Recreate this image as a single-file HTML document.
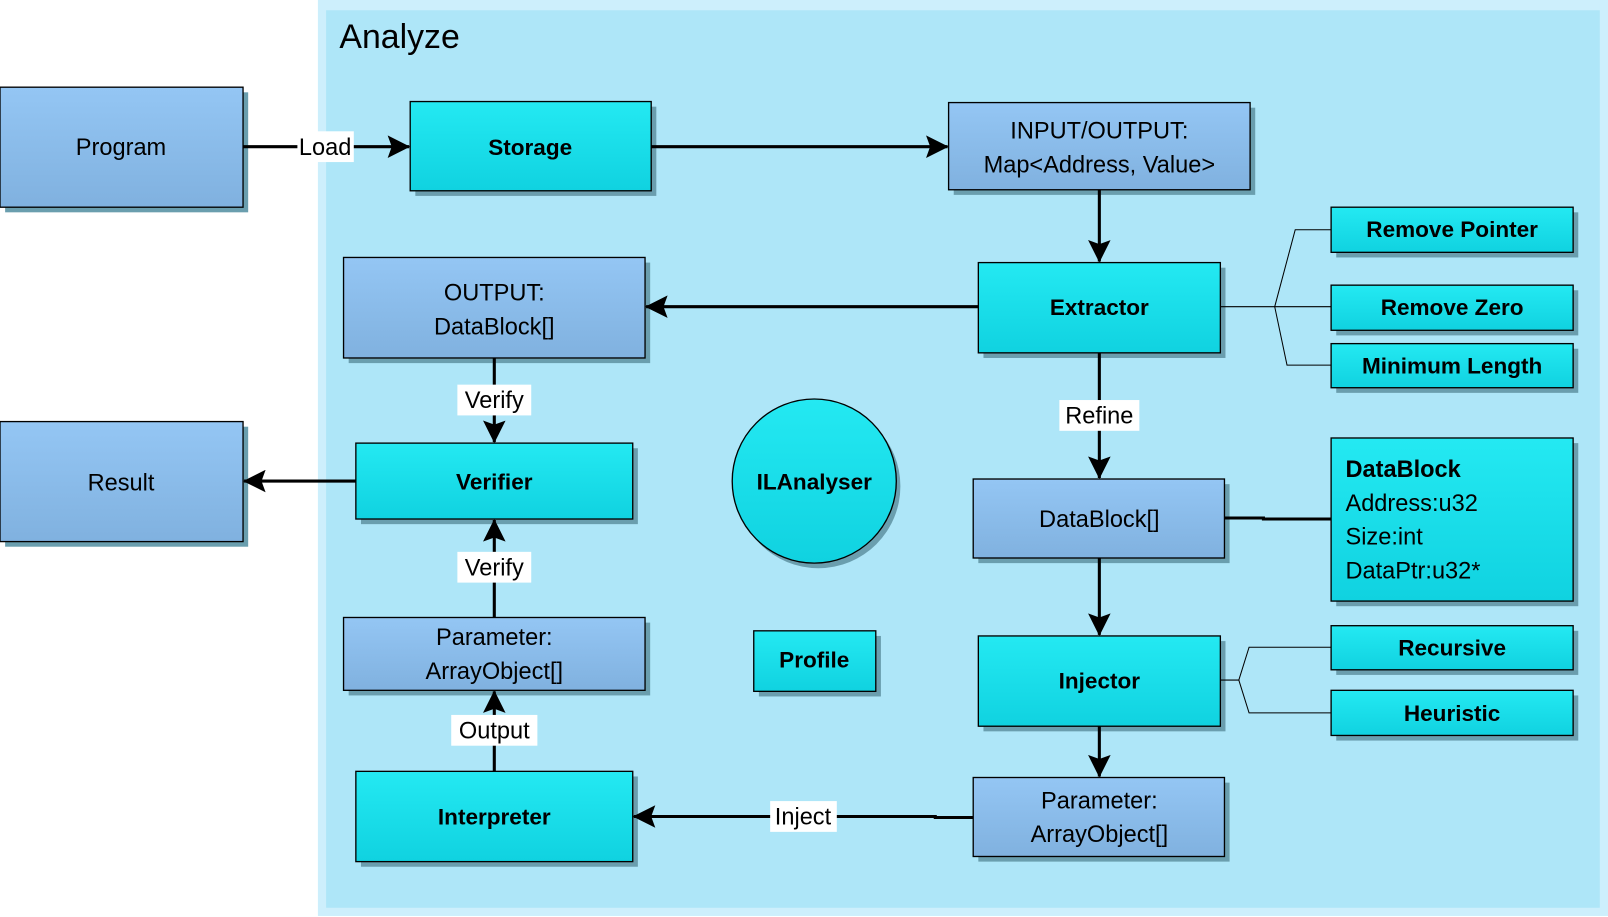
<!DOCTYPE html>
<html><head><meta charset="utf-8"><style>
html,body{margin:0;padding:0;background:#fff;}
svg{display:block;}
text{font-family:"Liberation Sans",sans-serif;fill:#000;}
</style></head><body>
<svg width="1608" height="917" viewBox="0 0 1568 894" preserveAspectRatio="none" xmlns="http://www.w3.org/2000/svg">
<defs>
<linearGradient id="b" x1="0" y1="0" x2="0" y2="1"><stop offset="0" stop-color="#94c6f4"/><stop offset="1" stop-color="#80b1df"/></linearGradient>
<linearGradient id="c" x1="0" y1="0" x2="0" y2="1"><stop offset="0" stop-color="#24e9f2"/><stop offset="1" stop-color="#10d2e0"/></linearGradient>
<marker id="a" markerWidth="22" markerHeight="22" refX="21" refY="11" orient="auto" markerUnits="userSpaceOnUse" viewBox="0 0 22 22"><path d="M0,0 L22,11 L0,22 L4,11 Z" fill="#000"/></marker>
</defs>
<rect x="310" y="0" width="1258" height="893" fill="#cdeffc"/>
<rect x="318" y="10" width="1242" height="875" fill="#aee6f8"/>
<text x="331" y="47" font-size="33">Analyze</text>

<g fill="#6a9eae">
<rect x="5" y="90" width="237" height="117"/><rect x="405" y="104" width="235" height="87"/>
<rect x="930" y="105" width="294" height="85"/><rect x="959" y="261" width="236" height="88"/>
<rect x="340" y="256" width="294" height="98"/><rect x="5" y="416" width="237" height="117"/>
<rect x="352" y="437" width="270" height="74"/><rect x="740" y="620" width="119" height="59"/>
<rect x="340" y="607" width="294" height="71"/><rect x="352" y="757" width="270" height="88"/>
<rect x="954" y="472" width="245" height="77"/><rect x="959" y="625" width="236" height="88"/>
<rect x="954" y="763" width="245" height="77"/>
<rect x="1303" y="207" width="236" height="44"/><rect x="1303" y="283" width="236" height="44"/>
<rect x="1303" y="340" width="236" height="43"/><rect x="1303" y="432" width="236" height="159"/>
<rect x="1303" y="615" width="236" height="43"/><rect x="1303" y="678" width="236" height="44"/>
<circle cx="798" cy="474" r="80"/>
</g>
<g stroke="#000" stroke-width="1.3">
<rect x="0" y="85" width="237" height="117" fill="url(#b)"/>
<rect x="400" y="99" width="235" height="87" fill="url(#c)"/>
<rect x="925" y="100" width="294" height="85" fill="url(#b)"/>
<rect x="954" y="256" width="236" height="88" fill="url(#c)"/>
<rect x="335" y="251" width="294" height="98" fill="url(#b)"/>
<rect x="0" y="411" width="237" height="117" fill="url(#b)"/>
<rect x="347" y="432" width="270" height="74" fill="url(#c)"/>
<circle cx="794" cy="469" r="80" fill="url(#c)"/>
<rect x="735" y="615" width="119" height="59" fill="url(#c)"/>
<rect x="335" y="602" width="294" height="71" fill="url(#b)"/>
<rect x="347" y="752" width="270" height="88" fill="url(#c)"/>
<rect x="949" y="467" width="245" height="77" fill="url(#b)"/>
<rect x="954" y="620" width="236" height="88" fill="url(#c)"/>
<rect x="949" y="758" width="245" height="77" fill="url(#b)"/>
<rect x="1298" y="202" width="236" height="44" fill="url(#c)"/>
<rect x="1298" y="278" width="236" height="44" fill="url(#c)"/>
<rect x="1298" y="335" width="236" height="43" fill="url(#c)"/>
<rect x="1298" y="427" width="236" height="159" fill="url(#c)"/>
<rect x="1298" y="610" width="236" height="43" fill="url(#c)"/>
<rect x="1298" y="673" width="236" height="44" fill="url(#c)"/>
</g>

<g stroke="#000" stroke-width="3" fill="none">
<line x1="237" y1="143" x2="399" y2="143" marker-end="url(#a)"/>
<line x1="635" y1="143" x2="924" y2="143" marker-end="url(#a)"/>
<line x1="1072" y1="185" x2="1072" y2="255" marker-end="url(#a)"/>
<line x1="954" y1="299" x2="630" y2="299" marker-end="url(#a)"/>
<line x1="482" y1="349" x2="482" y2="431" marker-end="url(#a)"/>
<line x1="347" y1="469" x2="238" y2="469" marker-end="url(#a)"/>
<line x1="482" y1="602" x2="482" y2="507" marker-end="url(#a)"/>
<line x1="482" y1="752" x2="482" y2="674" marker-end="url(#a)"/>
<line x1="1072" y1="344" x2="1072" y2="466" marker-end="url(#a)"/>
<line x1="1072" y1="544" x2="1072" y2="619" marker-end="url(#a)"/>
<line x1="1072" y1="708" x2="1072" y2="757" marker-end="url(#a)"/>
<polyline points="949,797 912,797 912,796 618,796" marker-end="url(#a)"/>
<polyline points="1194,505 1232,505 1232,506 1298,506"/>
</g>
<g stroke="#000" stroke-width="1" fill="none">
<polyline points="1190,299 1298,299"/>
<polyline points="1298,224 1263,224 1243,299 1255,356 1298,356"/>
<polyline points="1190,663 1208,663 1218,631 1298,631"/>
<polyline points="1208,663 1218,695 1298,695"/>
</g>
<g fill="#fff">
<rect x="290" y="128" width="55" height="30"/>
<rect x="446" y="375" width="72" height="30"/>
<rect x="446" y="538" width="72" height="30"/>
<rect x="440" y="697" width="84" height="30"/>
<rect x="1033" y="390" width="78" height="30"/>
<rect x="751" y="781" width="65" height="30"/>
</g>
<g font-size="23" text-anchor="middle">
<text x="317" y="151">Load</text>
<text x="482" y="398">Verify</text>
<text x="482" y="561">Verify</text>
<text x="482" y="720">Output</text>
<text x="1072" y="413">Refine</text>
<text x="783" y="804">Inject</text>
<text x="118" y="151">Program</text>
<text x="118" y="478">Result</text>
<text x="1072" y="135">INPUT/OUTPUT:</text>
<text x="1072" y="168">Map&lt;Address, Value&gt;</text>
<text x="482" y="293">OUTPUT:</text>
<text x="482" y="326">DataBlock[]</text>
<text x="482" y="629">Parameter:</text>
<text x="482" y="662">ArrayObject[]</text>
<text x="1072" y="514">DataBlock[]</text>
<text x="1072" y="788">Parameter:</text>
<text x="1072" y="821">ArrayObject[]</text>
</g>
<g font-size="22" text-anchor="middle" font-weight="bold">
<text x="517" y="151">Storage</text>
<text x="1072" y="307">Extractor</text>
<text x="482" y="477">Verifier</text>
<text x="794" y="477">ILAnalyser</text>
<text x="794" y="651">Profile</text>
<text x="482" y="804">Interpreter</text>
<text x="1072" y="671">Injector</text>
<text x="1416" y="231">Remove Pointer</text>
<text x="1416" y="307">Remove Zero</text>
<text x="1416" y="364">Minimum Length</text>
<text x="1416" y="639">Recursive</text>
<text x="1416" y="703">Heuristic</text>
</g>
<g font-size="23">
<text x="1312" y="465" font-weight="bold">DataBlock</text>
<text x="1312" y="498">Address:u32</text>
<text x="1312" y="531">Size:int</text>
<text x="1312" y="564">DataPtr:u32*</text>
</g>
</svg>
</body></html>
